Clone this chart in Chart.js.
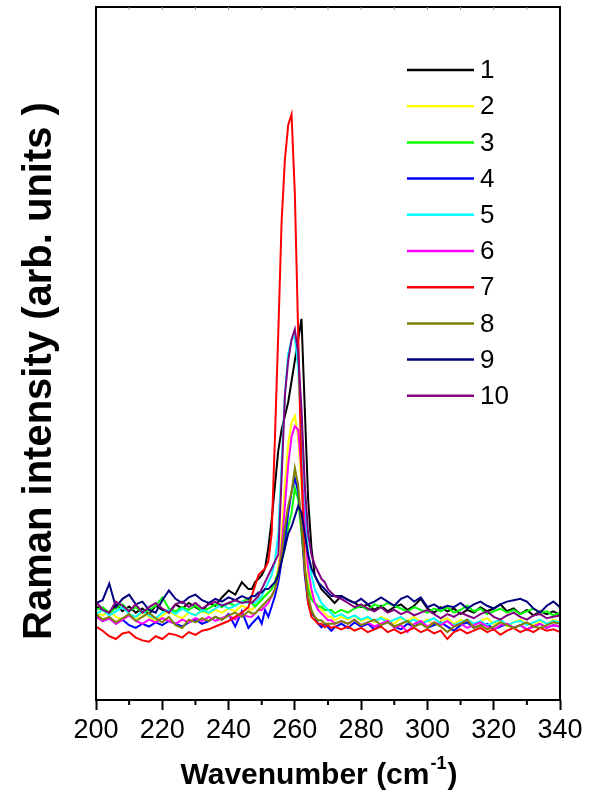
<!DOCTYPE html>
<html lang="en">
<head>
<meta charset="UTF-8">
<title>Raman spectra</title>
<script src="https://cdn.jsdelivr.net/npm/chart.js"></script>
<style>
  html, body { margin: 0; padding: 0; background: #fff; }
  canvas { display: block; }
</style>
</head>
<body>
<canvas id="chart" width="598" height="805"></canvas>
<script>
// x positions (cm-1): step 2 on the baseline, step 1 across the peak
const wavenumber = [
  200, 202, 204, 206, 208, 210, 212, 214, 216, 218, 220, 222, 224, 226, 228, 230, 232, 234, 236, 238, 240, 242, 244, 246,
  247, 248, 249, 250, 251, 252, 253, 254, 255, 256, 257, 258, 259, 260, 261, 262, 263, 264, 265, 266, 267, 268, 269, 270, 271, 272,
  274, 276, 278, 280, 282, 284, 286, 288, 290, 292, 294, 296, 298, 300, 302, 304, 306, 308, 310, 312, 314, 316, 318, 320, 322, 324, 326, 328, 330, 332, 334, 336, 338, 340
];

const spectrum1 = [
  13.5, 13, 12.5, 13.8, 12.8, 13.5, 12.6, 13.2, 12.4, 13.6, 13, 12.6, 13.8, 13.2, 14, 13.4, 12.8, 14, 13.6, 14.8, 15.8, 15.2, 17, 16,
  16, 17, 17.5, 18, 19, 22, 26, 31, 36, 39, 41, 43, 46, 49, 52, 55, 42, 29, 22, 18, 17, 16, 15.5, 15, 14.5, 14,
  15, 14.5, 14, 13.4, 13.8, 13, 13.6, 12.8, 13.4, 13.8, 13, 13.6, 14.6, 13.2, 12.6, 13.4, 12.8, 13.2, 12.4, 13, 12.6, 13.4, 12.8, 13.2, 13.8, 12.8, 13.2, 12.4, 13, 12.2, 12.8, 12.4, 12.8, 12.3
];
const spectrum2 = [
  12.6, 12.2, 12.8, 12, 11.6, 12.4, 11.8, 12.6, 12, 11.4, 12.2, 12.8, 12.2, 11.8, 12.6, 12.2, 12.8, 12.4, 13, 12.6, 13.2, 12.8, 13.6, 13.2,
  13, 13.5, 14, 14.5, 15, 15.5, 16, 17, 19, 24, 31, 37, 40, 41, 38, 31, 24, 18, 15, 14, 13.5, 13, 12.5, 12, 12, 11.5,
  12, 11.6, 12.2, 11.4, 11.8, 11.2, 12, 11.6, 11, 11.8, 11.4, 12, 11.2, 11.6, 10.8, 11.4, 11.8, 11, 11.6, 11.2, 10.8, 11.4, 11.8, 11, 11.4, 10.6, 11.2, 11.6, 11, 10.8, 11.4, 11, 11.6, 11.2
];
const spectrum3 = [
  13, 13.4, 12.6, 13.2, 13.8, 12.8, 13.4, 12.6, 13, 13.6, 14.8, 13.2, 12.8, 13.4, 13, 13.6, 12.8, 13.2, 13.8, 13.4, 14, 13.6, 14.2, 14.6,
  14, 13.5, 14, 14.5, 15, 15.5, 16, 17, 18.5, 20, 22, 25, 27, 30.5, 29, 24, 19, 16, 14.5, 14, 13.5, 13.5, 13, 13, 13, 12.5,
  13, 12.6, 13.2, 13.6, 13, 13.8, 13.4, 14, 13.6, 13.2, 12.8, 13.4, 13, 12.6, 13.2, 12.8, 13.4, 12.6, 13, 13.6, 12.8, 13.2, 12.4, 12.8, 13.2, 12.6, 13, 12.4, 12.8, 13.2, 12.6, 12.8, 12.2, 12.6
];
const spectrum4 = [
  12.2, 11.4, 11.8, 11, 11.6, 10.8, 10.4, 11, 10.6, 11.2, 10.8, 11.4, 11, 10.6, 11.2, 11.6, 11, 11.4, 12, 11.6, 12.4, 10.6, 12.8, 10.4,
  11, 11.5, 12, 11, 13, 12, 13.5, 15, 17, 20, 23, 27, 30, 32, 30, 25, 18, 14, 12.5, 12, 11, 10.5, 11, 10.5, 10, 10.5,
  11, 10.4, 11.2, 10.6, 11, 10.2, 10.8, 11.4, 10.6, 10.2, 11, 10.6, 11.2, 10.4, 10.8, 11.2, 10.6, 10, 10.8, 11.2, 10.4, 10.8, 11, 10.2, 10.6, 11, 10.4, 10.8, 10.2, 10.6, 11, 10.4, 10.8, 10.6
];
const spectrum5 = [
  12.4, 13, 12.2, 12.8, 13.4, 12.4, 12, 12.8, 12.2, 11.8, 12.6, 13, 12.4, 13.2, 12.6, 12.2, 13, 12.6, 13.2, 13.8, 13.2, 13.6, 14.2, 14,
  14, 14, 14.5, 15, 16, 17, 18, 20, 24, 34, 44, 50, 52, 52.5, 48, 38, 28, 21, 18, 16, 15, 14, 13.5, 13, 12.5, 12,
  12.4, 11.8, 12.2, 11.6, 12, 11.4, 11.8, 11.2, 11.6, 12, 11.2, 11.6, 11, 11.4, 11.8, 11, 11.4, 10.8, 11.2, 11.6, 11, 11.4, 10.8, 11.2, 11.6, 10.8, 11.2, 11.4, 10.8, 11.2, 11.6, 11, 11.4, 11.2
];
const spectrum6 = [
  12, 11.4, 11.8, 11, 11.6, 12.2, 11.4, 11, 11.6, 11.2, 11.8, 11.4, 11, 11.6, 11.2, 11.8, 11.4, 12, 11.4, 11.8, 12.2, 11.6, 12.4, 12,
  12, 12.5, 13, 13, 13.5, 14, 15, 16, 18, 22, 28, 34, 38, 39.5, 39, 33, 25, 19, 16, 14, 13, 12.5, 12, 11.5, 11.5, 11,
  11.4, 11, 11.6, 10.8, 11.2, 10.6, 11, 11.4, 10.4, 10.8, 9.8, 11, 11.4, 10.6, 11.2, 10.8, 11.4, 10.6, 11, 10.4, 10.8, 11.2, 10.6, 10.2, 10.8, 11, 10.4, 10.8, 10.2, 10.6, 11, 10.4, 10.8, 10.6
];
const spectrum7 = [
  10.6, 10, 9.2, 8.8, 9.6, 9.8, 9, 8.6, 8.4, 9.2, 8.8, 9.6, 9.4, 9, 9.8, 9.4, 10, 10.2, 10.6, 11, 11.4, 12, 12.6, 13.4,
  15, 16.5, 18, 18.5, 19, 20, 24, 38, 53, 69, 78, 83, 84.5, 73, 53, 33, 19, 14, 12, 11.5, 11, 11, 10.5, 10.8, 10.4, 10.6,
  10.2, 10.6, 10, 10.4, 9.8, 10.2, 10.6, 9.8, 10.2, 9.6, 10, 10.4, 9.8, 10.2, 9.6, 10, 8.8, 9.8, 10.2, 9.6, 10, 10.4, 9.8, 10.2, 9.4, 10, 10.4, 9.8, 10.2, 9.8, 10.4, 10, 10.2, 9.8
];
const spectrum8 = [
  12.4, 11.6, 12, 11.2, 11.8, 12.4, 11.4, 12, 12.6, 11.8, 11.2, 12, 10.8, 10.4, 11.6, 11.2, 11.8, 11.4, 12, 11.6, 12.2, 12.6, 12, 12.8,
  12.5, 12.5, 13, 13.5, 14, 14.5, 15, 16, 18, 21, 25, 28, 30, 33.5, 31, 25, 19, 15, 13, 12, 11.5, 11.5, 11, 11, 11, 11,
  11.4, 11, 11.6, 10.8, 11.2, 11.6, 10.8, 11.2, 10.6, 11, 11.4, 10.6, 11, 10.4, 11.2, 10.6, 9.8, 10.6, 11, 11.6, 10.4, 10.8, 10.2, 10.6, 11.2, 10.8, 10.4, 10.8, 11.2, 10.6, 10.4, 10.8, 11.2, 11
];
const spectrum9 = [
  14, 14.4, 16.8, 13.4, 14.6, 15.2, 13.8, 14.2, 13, 12.6, 14.4, 15.8, 14.6, 14, 14.8, 15.2, 14.4, 14, 14.6, 14.2, 14.8, 14.4, 15, 14.6,
  15, 15, 15.5, 15.5, 16, 16, 16.5, 17, 18, 20, 22, 24, 25, 26.5, 28, 27, 24, 21, 19, 18, 17, 16.5, 16, 15.5, 15, 15,
  15, 14.4, 14, 14.6, 13.8, 14.2, 14.8, 14.2, 13.6, 14.6, 15, 14.2, 14.8, 13.4, 13.8, 13.2, 13.6, 13.4, 14, 13.2, 13.8, 14.2, 13.6, 13.2, 13.8, 14.2, 14.4, 14.6, 14.2, 13.2, 12.6, 13.6, 14.2, 13.4
];
const spectrum10 = [
  14.2, 13, 12.6, 14.2, 13.6, 12.8, 13.8, 12.6, 13.4, 14, 13.2, 12.6, 13.8, 14.2, 13.4, 14, 13.2, 13.8, 14.2, 13.6, 14, 14.4, 14, 14.2,
  14, 14.5, 15, 16, 17, 18, 19, 20, 21, 32, 44, 49, 52, 53.5, 50, 42, 31, 24, 21, 19.5, 18.5, 17.5, 17, 16, 15.5, 15,
  14.6, 14, 13.4, 13.8, 13.2, 12.8, 13.4, 12.6, 13, 12.4, 12.8, 12.2, 12.6, 13, 12.4, 11.8, 12.4, 12, 12.6, 12.2, 11.8, 12.4, 12.8, 12, 11.6, 12.2, 12.6, 12, 11.6, 12.2, 12.4, 11.8, 12, 12.2
];

const seriesLabels = ['1', '2', '3', '4', '5', '6', '7', '8', '9', '10'];
const seriesColors = ['#000000', '#ffff00', '#00ff00', '#0000ff', '#00ffff', '#ff00ff', '#ff0000', '#808000', '#000080', '#800080'];
const spectra = [spectrum1, spectrum2, spectrum3, spectrum4, spectrum5, spectrum6, spectrum7, spectrum8, spectrum9, spectrum10];
const xTicks = [200, 220, 240, 260, 280, 300, 320, 340];

const FONT = '"Liberation Sans", Arial, sans-serif';
Chart.defaults.font.family = FONT;
Chart.defaults.color = '#000';

// frame, minor ticks, legend and axis titles
const decorations = {
  id: 'decorations',
  afterDraw(chart) {
    const { ctx, chartArea: a, scales: { x } } = chart;
    ctx.save();
    ctx.strokeStyle = '#000';
    ctx.lineWidth = 2;
    ctx.strokeRect(a.left, a.top, a.right - a.left, a.bottom - a.top);

    // minor ticks every 10 on the bottom, short inner ticks on top
    for (let v = x.min + 10; v < x.max; v += 20) {
      const px = x.getPixelForValue(v);
      ctx.beginPath();
      ctx.moveTo(px, a.bottom);
      ctx.lineTo(px, a.bottom + 5);
      ctx.stroke();
    }
    ctx.strokeStyle = '#999';
    ctx.lineWidth = 1;
    for (let v = x.min + 10; v < x.max; v += 10) {
      const px = x.getPixelForValue(v);
      ctx.beginPath();
      ctx.moveTo(px, a.top);
      ctx.lineTo(px, a.top + 3);
      ctx.stroke();
    }

    // legend
    ctx.font = '26px ' + FONT;
    ctx.textBaseline = 'middle';
    ctx.textAlign = 'left';
    chart.data.datasets.forEach((ds, i) => {
      const y = 70 + i * 36.2;
      ctx.strokeStyle = ds.borderColor;
      ctx.lineWidth = 2.5;
      ctx.beginPath();
      ctx.moveTo(407, y);
      ctx.lineTo(474, y);
      ctx.stroke();
      ctx.fillStyle = '#000';
      ctx.fillText(ds.label, 480, y + 1);
    });

    // y title
    ctx.save();
    ctx.translate(40, 371);
    ctx.rotate(-Math.PI / 2);
    ctx.font = 'bold 40px ' + FONT;
    ctx.textAlign = 'center';
    ctx.textBaseline = 'middle';
    ctx.fillText('Raman intensity (arb. units )', 0, 0);
    ctx.restore();

    // x title: Wavenumber (cm-1) with superscript
    const big = 'bold 30px ' + FONT;
    const small = 'bold 18px ' + FONT;
    const p1 = 'Wavenumber (cm', p2 = '-1', p3 = ')';
    ctx.font = big;
    const w1 = ctx.measureText(p1).width, w3 = ctx.measureText(p3).width;
    ctx.font = small;
    const w2 = ctx.measureText(p2).width;
    let tx = 319 - (w1 + w2 + w3 + 2) / 2;
    const ty = 784;
    ctx.textAlign = 'left';
    ctx.textBaseline = 'alphabetic';
    ctx.fillStyle = '#000';
    ctx.font = big;
    ctx.fillText(p1, tx, ty);
    tx += w1 + 1;
    ctx.font = small;
    ctx.fillText(p2, tx, ty - 15);
    tx += w2 + 1;
    ctx.font = big;
    ctx.fillText(p3, tx, ty);
    ctx.restore();
  }
};

new Chart(document.getElementById('chart'), {
  type: 'line',
  data: {
    datasets: spectra.map((s, i) => ({
      label: seriesLabels[i],
      data: wavenumber.map((w, k) => ({ x: w, y: s[k] })),
      borderColor: seriesColors[i],
      borderWidth: 2,
      pointRadius: 0,
      tension: 0,
      fill: false,
      order: -i
    }))
  },
  options: {
    responsive: false,
    animation: false,
    layout: { padding: { left: 0, right: 38, top: 7, bottom: 0 } },
    plugins: { legend: { display: false }, tooltip: { enabled: false } },
    scales: {
      x: {
        type: 'linear',
        min: 200,
        max: 340,
        afterBuildTicks: s => { s.ticks = xTicks.map(v => ({ value: v })); },
        afterFit: s => { s.height = 105; },
        ticks: { font: { size: 27 }, color: '#000', padding: 4, maxRotation: 0 },
        grid: { drawOnChartArea: false, drawTicks: true, tickLength: 10, tickWidth: 2, tickColor: '#000' },
        border: { display: false }
      },
      y: {
        min: 0,
        max: 100,
        afterFit: s => { s.width = 96; },
        ticks: { display: false },
        grid: { display: false },
        border: { display: false }
      }
    }
  },
  plugins: [decorations]
});
</script>
</body>
</html>
